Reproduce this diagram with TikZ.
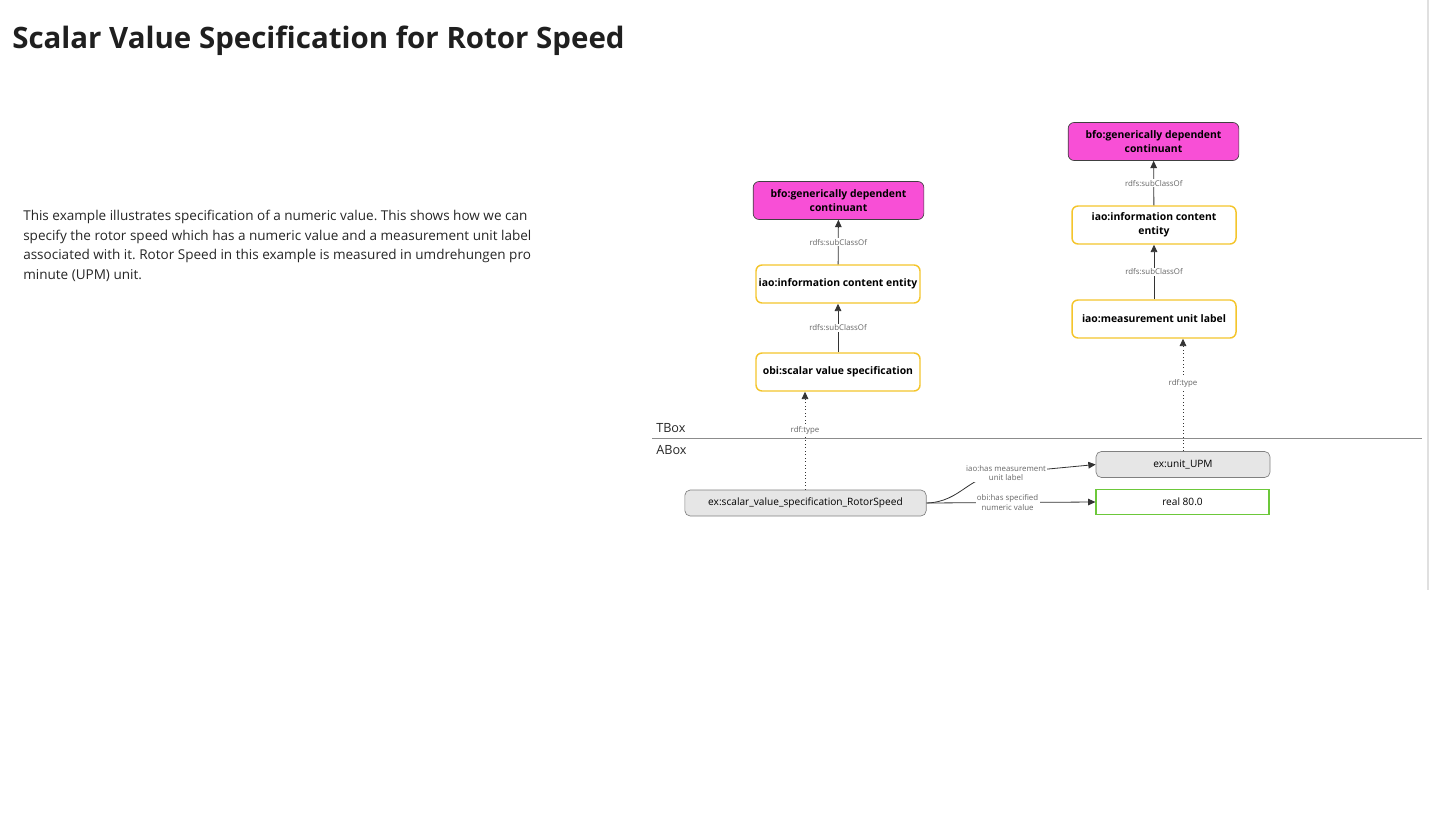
\documentclass[tikz,border=0pt]{standalone}
\usepackage{fontspec}
\setmainfont{Open Sans}
\usetikzlibrary{arrows.meta}
\definecolor{gdcpink}{HTML}{F84FD6}
\definecolor{classyellow}{HTML}{F4C52C}
\definecolor{litgreen}{HTML}{6CC83A}
\definecolor{indgrey}{HTML}{E6E6E6}
\frenchspacing
\begin{document}
\begin{tikzpicture}[x=0.75pt,y=-0.75pt,
    classbox/.style={draw=classyellow, line width=1.1pt, rounded corners=4.5pt, fill=white,
      minimum width=123pt, minimum height=28.5pt, align=center, inner sep=1pt,
      font=\fontsize{7.8}{10.5}\selectfont\bfseries},
    topbox/.style={classbox, draw=black!75, line width=0.5pt, fill=gdcpink, minimum width=128pt},
    indbox/.style={draw=black!50, line width=0.5pt, fill=indgrey, rounded corners=4pt,
      minimum width=130.5pt, minimum height=19.5pt, font=\fontsize{7.6}{9}\selectfont},
    litbox/.style={draw=litgreen, line width=1.2pt, fill=white,
      minimum width=129.5pt, minimum height=19pt, font=\fontsize{7.6}{9}\selectfont},
    edgelbl/.style={fill=white, inner sep=1pt, text=black!60, align=center,
      font=\fontsize{5.9}{7.4}\selectfont},
    isa/.style={-{Triangle[length=5.5pt,width=5pt]}, draw=black!80, line width=0.6pt},
    typeof/.style={isa, dotted}]
  \useasboundingbox (0,0) rectangle (1430,820);
  \draw[black!12, line width=1.2pt] (1428,0) -- (1428,590);

  % Title and description
  \node (title) [anchor=west, font=\fontsize{22.1}{26}\selectfont\bfseries, text=black!88, inner sep=0pt]
    at (12,41) {Scalar Value Specification for Rotor Speed};
  \node (desc) [anchor=north west, align=left, inner sep=0pt, text=black!85,
    font=\fontsize{10.15}{14.75}\selectfont] at (23,210)
    {This example illustrates specification of a numeric value. This shows how we can\\
     specify the rotor speed which has a numeric value and a measurement unit label\\
     associated with it. Rotor Speed in this example is measured in umdrehungen pro\\
     minute (UPM) unit.};

  % TBox / ABox split
  \coordinate (split_l) at (652,438);
  \coordinate (split_r) at (1422,438);
  \draw[black!45, line width=0.5pt] (split_l) -- (split_r);
  \node (tbox) [anchor=west, font=\fontsize{9.5}{11}\selectfont, text=black!85, inner sep=0pt] at (656,428) {TBox};
  \node (abox) [anchor=west, font=\fontsize{9.5}{11}\selectfont, text=black!85, inner sep=0pt] at (656,450) {ABox};

  % Nodes (left column, bottom to top)
  \node (svs)  at (838,372) [classbox] {obi:scalar value specification};
  \node (ice1) at (838,284) [classbox] {iao:information content entity};
  \node (gdc1) at (838.5,200.5) [topbox] {bfo:generically dependent\\continuant};

  % Nodes (right column, bottom to top)
  \node (mul)  at (1154,319) [classbox] {iao:measurement unit label};
  \node (ice2) at (1154,225) [classbox] {iao:information content\\entity};
  \node (gdc2) at (1153.5,141.5) [topbox] {bfo:generically dependent\\continuant};

  % Individuals
  \node (rotor) at (805.5,503) [indbox, minimum width=181pt] {ex:scalar\_value\_specification\_RotorSpeed};
  \node (upm)   at (1183,464.5) [indbox] {ex:unit\_UPM};
  \node (real)  at (1182.5,502) [litbox] {real 80.0};

  % Edges
  \draw[isa] (svs) -- node[edgelbl] {rdfs:subClassOf} (ice1);
  \draw[isa] (ice1) -- node[edgelbl] {rdfs:subClassOf} (gdc1);
  \draw[isa] (mul) -- node[edgelbl] {rdfs:subClassOf} (ice2);
  \draw[isa] (ice2) -- node[edgelbl] {rdfs:subClassOf} (gdc2);
  \draw[typeof] (rotor.north -| 805,0) -- node[edgelbl, pos=0.6] {rdf:type} (svs.south -| 805,0);
  \draw[typeof] (upm.north) -- node[edgelbl, pos=0.6] {rdf:type} (mul.south -| upm.north);
  \draw[isa] (rotor.east) .. controls (962,502) and (968,474) .. (1006,473)
    -- node[edgelbl, pos=0] {iao:has measurement\\unit label} (upm.west);
  \draw[isa] (rotor.east) -- node[edgelbl, pos=0.48] {obi:has specified\\numeric value} (real.west);
\end{tikzpicture}
\end{document}
